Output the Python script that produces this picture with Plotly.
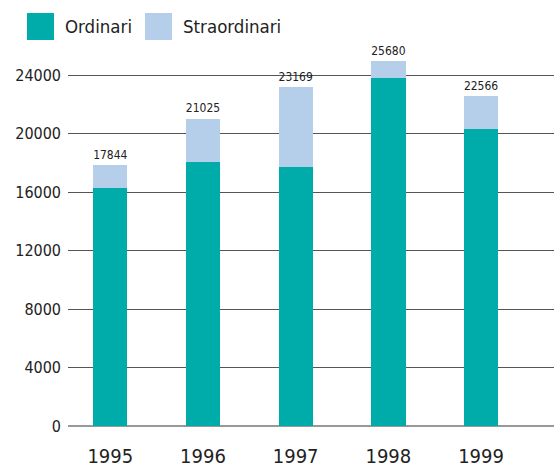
import plotly.graph_objects as go

years = ["1995", "1996", "1997", "1998", "1999"]
ordinari = [16290, 18050, 17730, 23816, 20308]
straordinari = [1554, 2975, 5439, 1140, 2258]
totali_label = ["17844", "21025", "23169", "25680", "22566"]
y_ticks = [0, 4000, 8000, 12000, 16000, 20000, 24000]
y_tick_text = ["0", "4000", "8000", "12000", "16000", "20000", "24000"]

TEAL = "#00ACA9"
LIGHT = "#B5CEE9"
FONT = "DejaVu Sans Condensed, Liberation Sans Narrow, sans-serif"
xpos = list(range(len(years)))

fig = go.Figure()
fig.add_trace(go.Bar(x=xpos, y=ordinari, name="Ordinari", marker=dict(color=TEAL, line=dict(width=0)),
                     width=0.37, showlegend=False))
fig.add_trace(go.Bar(x=xpos, y=straordinari, name="Straordinari", marker=dict(color=LIGHT, line=dict(width=0)),
                     width=0.37, showlegend=False, text=totali_label, textposition="outside",
                     textfont=dict(family=FONT, size=15, color="#222"), cliponaxis=False))

# manual legend
legend_items = [("Ordinari", TEAL, 27), ("Straordinari", LIGHT, 145)]
for name, col, x0 in legend_items:
    fig.add_shape(type="rect", xref="paper", yref="paper",
                  x0=(x0 - 68) / 486, x1=(x0 + 27 - 68) / 486,
                  y0=(426 - 40) / 386, y1=(426 - 13) / 386,
                  fillcolor=col, line=dict(width=0), layer="above")
    fig.add_annotation(text=name, xref="paper", yref="paper",
                       x=(x0 + 36 - 68) / 486, y=(426 - 26.5) / 386,
                       xanchor="left", yanchor="middle", showarrow=False,
                       font=dict(family=FONT, size=18.5, color="#222"))

fig.update_layout(
    width=554, height=468,
    margin=dict(l=68, r=0, t=40, b=42, autoexpand=False),
    barmode="stack",
    bargap=0.6,
    plot_bgcolor="white", paper_bgcolor="white",
    font=dict(family=FONT, color="#222"),
)
fig.update_xaxes(range=[-0.456, 4.787], tickvals=xpos, ticktext=years, showgrid=False,
                 zeroline=False, showline=False, ticks="", ticklabelstandoff=16, automargin=False,
                 tickfont=dict(family=FONT, size=20, color="#222"))
fig.update_yaxes(range=[0, 26393], tickvals=y_ticks, ticktext=y_tick_text, showgrid=True,
                 gridcolor="#555", gridwidth=1, automargin=False,
                 zeroline=True, zerolinecolor="#999", zerolinewidth=2, ticks="", ticklabelstandoff=6,
                 tickfont=dict(family=FONT, size=16, color="#222"))

fig.write_html("out.html", config={"displayModeBar": False},
               post_script="document.body.style.margin='0';document.body.style.overflow='hidden';")
